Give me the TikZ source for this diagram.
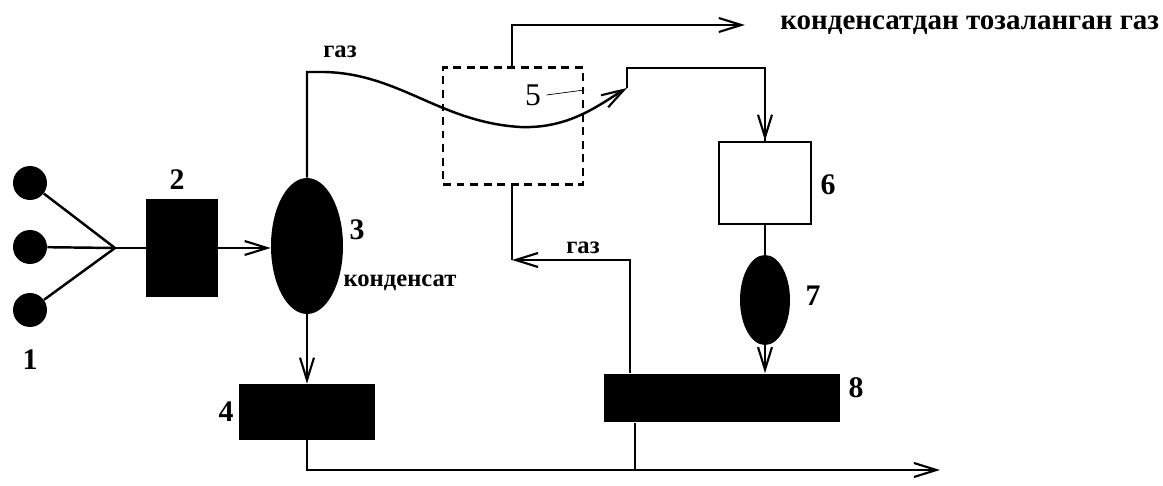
\documentclass[tikz,border=0pt]{standalone}
\usepackage{fontspec}
\setmainfont{Liberation Serif}
\usepackage{tikz}
\usetikzlibrary{arrows.meta,positioning,calc,shapes.geometric}

\begin{document}
\begin{tikzpicture}[
  x=0.02cm,y=-0.02cm,
  every node/.style={font=\bfseries\fontsize{14}{16}\selectfont,inner sep=0pt},
  well/.style={circle,fill=black,minimum size=0.68cm},
  unit/.style={rectangle,fill=black},
  sep/.style={ellipse,fill=black},
  pipe/.style={line width=1.4pt},
  flow/.style={pipe,-{Straight Barb[length=4.5mm,width=2.8mm,line width=1.2pt]}},
  tag/.style={font=\bfseries\fontsize{17}{19}\selectfont}
]
  \useasboundingbox (0,0) rectangle (1163,486);

  % Wells and the collector on the left.
  \node[well] (well1) at (30,183) {};
  \node[well] (well2) at (30,247) {};
  \node[well] (well3) at (30,310) {};
  \coordinate (join) at (115,248);
  \node[unit,minimum width=1.44cm,minimum height=1.96cm] (heater) at (182,248) {};
  \node[sep,minimum width=1.44cm,minimum height=2.72cm] (separ) at (307,246) {};
  \node[unit,minimum width=2.72cm,minimum height=1.12cm] (tank) at (307,412) {};

  % Cooling block, dryer, second separator and storage.
  \node[draw,line width=1.4pt,dash pattern=on 4.5pt off 3.2pt,minimum width=2.8cm,minimum height=2.34cm] (cooler) at (513,126) {};
  \node[draw,line width=1.4pt,minimum width=1.84cm,minimum height=1.64cm] (dryer) at (765,183) {};
  \node[sep,minimum width=1.0cm,minimum height=1.8cm] (separ2) at (765,300) {};
  \node[unit,minimum width=4.72cm,minimum height=0.98cm] (store) at (722,398) {};

  % Numbers and stream names.
  \node[tag] (n1) at (30,360) {1};
  \node[tag] (n2) at (177,180) {2};
  \node[tag] (n3) at (357,230) {3};
  \node[tag] (n4) at (226,412) {4};
  \node[tag,font=\mdseries\fontsize{18}{20}\selectfont] (n5) at (533,95) {5};
  \node[tag] (n6) at (828,185) {6};
  \node[tag] (n7) at (813,296) {7};
  \node[tag] (n8) at (856,388) {8};
  \node (cond) at (400,283) {конденсат};
  \node (gas1) at (340,52) {газ};
  \node (gas2) at (583,248) {газ};
  \node[anchor=west,font=\bfseries\fontsize{16.5}{18}\selectfont] (clean) at (780,25) {конденсатдан тозаланган газ};

  % Free ends of the streams.
  \coordinate (tip) at (627,88);
  \coordinate (back) at (512,260);
  \coordinate (out) at (940,470);

  % Lines from the wells to the heater and separator.
  \draw[pipe] (well1) -- (join);
  \draw[pipe] (well2) -- (join);
  \draw[pipe] (well3) -- (join);
  \draw[pipe] (join) -- (heater.west);
  \draw[flow] (heater.east) -- (heater.east -| separ.west);
  \draw[flow] (separ.south) -- (tank.north);

  % Gas through the cooling coil.
  \draw[flow] (separ.north) -- (307,72) -- (325,72)
    .. controls (400,74) and (440,122) .. (520,127)
    .. controls (570,129) and (600,104) .. (tip);
  \draw[thin] ([xshift=3pt]n5.east) -- (cooler.east |- 583,90);
  \draw[pipe] (tip) -- (627,68) -| (dryer.north);
  \draw[flow] (627,68) -| (dryer.north);
  \draw[flow] (cooler.north -| 512,0) |- ([xshift=-20pt]clean.west);
  \draw[pipe] (dryer.south) -- (separ2.north);
  \draw[flow] (separ2.south) -- (store.north -| separ2.south);

  % Return gas and condensate outlet.
  \draw[flow] (store.north -| 630,0) |- (back);
  \draw[pipe] (cooler.south -| back) -- (back);
  \draw[flow] (tank.south) |- (out);
  \draw[pipe] (store.south -| 635,0) -- (635,470);
\end{tikzpicture}
\end{document}
